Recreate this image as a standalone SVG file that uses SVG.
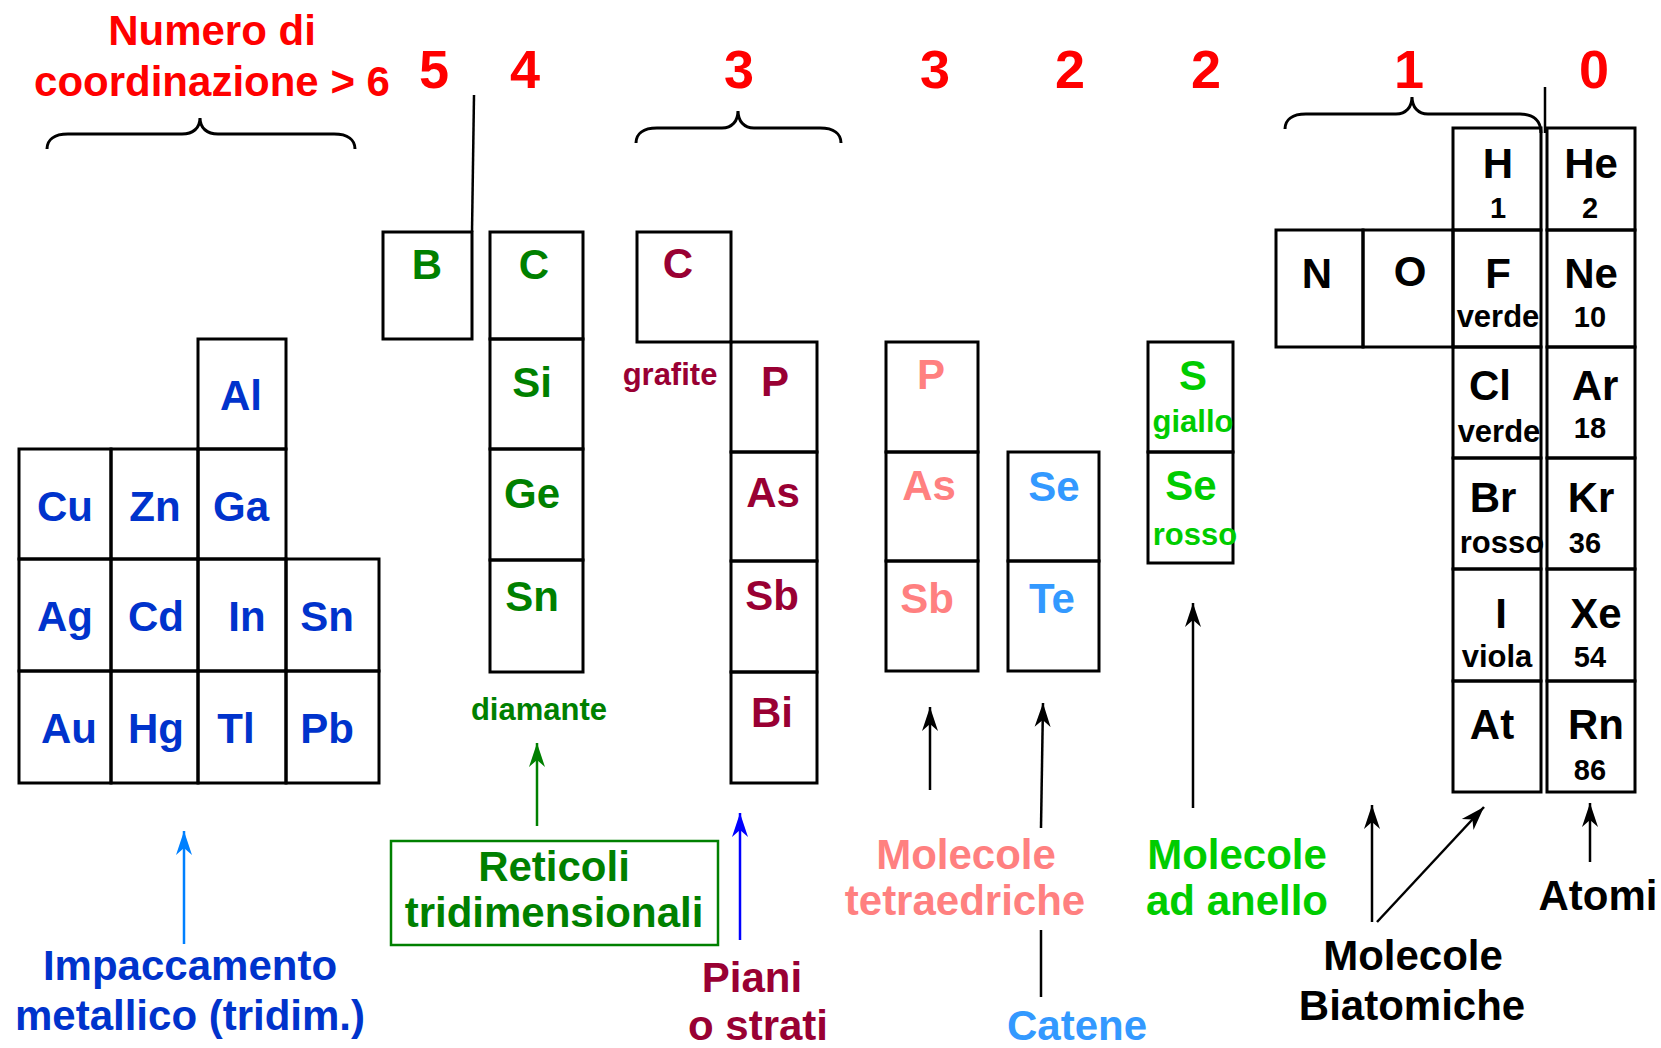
<svg xmlns="http://www.w3.org/2000/svg" width="1661" height="1048" viewBox="0 0 1661 1048">
  <style>
    text { font-family: "Liberation Sans", Arial, sans-serif; font-weight: bold; text-anchor: middle; }
    .cell { fill: none; stroke: #000; stroke-width: 3; }
    .sym { font-size: 42px; }
    .small { font-size: 31px; }
    .num { font-size: 29px; fill: #000; }
    .lbl { font-size: 42px; }
    .cn { font-size: 54px; fill: #ff0000; }
    .brace { fill: none; stroke: #000; stroke-width: 3; }
    .metal { fill: #0033cc; }
    .g4 { fill: #008000; }
    .layer { fill: #990033; }
    .tetra { fill: #ff8080; }
    .chain { fill: #3399ff; }
    .ring { fill: #00cc00; }
    .blk { fill: #000; }
    .ln { fill: none; stroke-width: 2.5; }
  </style>
  <defs>
    <marker id="ah-black" markerUnits="userSpaceOnUse" markerWidth="30" markerHeight="20" refX="24" refY="8" orient="auto" viewBox="0 0 30 16">
      <path d="M24,8 L0,0 L7,8 L0,16 Z" fill="#000"/>
    </marker>
    <marker id="ah-green" markerUnits="userSpaceOnUse" markerWidth="30" markerHeight="20" refX="24" refY="8" orient="auto" viewBox="0 0 30 16">
      <path d="M24,8 L0,0 L7,8 L0,16 Z" fill="#008000"/>
    </marker>
    <marker id="ah-light" markerUnits="userSpaceOnUse" markerWidth="30" markerHeight="20" refX="24" refY="8" orient="auto" viewBox="0 0 30 16">
      <path d="M24,8 L0,0 L7,8 L0,16 Z" fill="#0080ff"/>
    </marker>
    <marker id="ah-blue" markerUnits="userSpaceOnUse" markerWidth="30" markerHeight="20" refX="24" refY="8" orient="auto" viewBox="0 0 30 16">
      <path d="M24,8 L0,0 L7,8 L0,16 Z" fill="#0000ff"/>
    </marker>
  </defs>

  <rect width="1661" height="1048" fill="#fff"/>

  <!-- heading and coordination numbers -->
  <g id="heading">
    <text x="212" y="45" font-size="42" fill="#ff0000">Numero di</text>
    <text x="212" y="96" font-size="42" fill="#ff0000">coordinazione &gt; 6</text>
    <text class="cn" x="434" y="88">5</text>
    <text class="cn" x="525" y="88">4</text>
    <text class="cn" x="739" y="88">3</text>
    <text class="cn" x="935" y="88">3</text>
    <text class="cn" x="1070" y="88">2</text>
    <text class="cn" x="1206" y="88">2</text>
    <text class="cn" x="1409" y="88">1</text>
    <text class="cn" x="1594" y="88">0</text>
  </g>

  <!-- curly braces -->
  <g id="braces">
    <path class="brace" d="M47,149 C47,140 54,134 68,134 L182,134 C193,134 200,128 200,118 C200,128 207,134 218,134 L334,134 C348,134 355,140 355,149"/>
    <path class="brace" d="M636,143 C636,134 643,128 657,128 L722,128 C732,128 738,121 738,111 C738,121 744,128 754,128 L820,128 C834,128 841,134 841,143"/>
    <path class="brace" d="M1285,129 C1285,120 1292,114 1306,114 L1396,114 C1406,114 1412,107 1412,97 C1412,107 1418,114 1428,114 L1520,114 C1534,114 1541,121 1541,133"/>
  </g>

  <!-- metals: packed lattice -->
  <g id="metals">
    <rect class="cell" x="198" y="339" width="88" height="110"/>
    <rect class="cell" x="19" y="449" width="92" height="110"/>
    <rect class="cell" x="111" y="449" width="87" height="110"/>
    <rect class="cell" x="198" y="449" width="88" height="110"/>
    <rect class="cell" x="19" y="559" width="92" height="112"/>
    <rect class="cell" x="111" y="559" width="87" height="112"/>
    <rect class="cell" x="198" y="559" width="88" height="112"/>
    <rect class="cell" x="286" y="559" width="93" height="112"/>
    <rect class="cell" x="19" y="671" width="92" height="112"/>
    <rect class="cell" x="111" y="671" width="87" height="112"/>
    <rect class="cell" x="198" y="671" width="88" height="112"/>
    <rect class="cell" x="286" y="671" width="93" height="112"/>
    <text class="sym metal" x="241" y="410">Al</text>
    <text class="sym metal" x="65" y="521">Cu</text>
    <text class="sym metal" x="155" y="521">Zn</text>
    <text class="sym metal" x="241" y="521">Ga</text>
    <text class="sym metal" x="65" y="631">Ag</text>
    <text class="sym metal" x="156" y="631">Cd</text>
    <text class="sym metal" x="247" y="631">In</text>
    <text class="sym metal" x="327" y="631">Sn</text>
    <text class="sym metal" x="69" y="743">Au</text>
    <text class="sym metal" x="156" y="743">Hg</text>
    <text class="sym metal" x="236" y="743">Tl</text>
    <text class="sym metal" x="327" y="743">Pb</text>
  </g>

  <!-- boron -->
  <g id="boron">
    <rect class="cell" x="383" y="232" width="89" height="107"/>
    <text class="sym g4" x="427" y="279">B</text>
  </g>

  <!-- group 14: diamond lattice -->
  <g id="diamond">
    <rect class="cell" x="490" y="232" width="93" height="107"/>
    <rect class="cell" x="490" y="339" width="93" height="110"/>
    <rect class="cell" x="490" y="449" width="93" height="111"/>
    <rect class="cell" x="490" y="560" width="93" height="112"/>
    <text class="sym g4" x="534" y="279">C</text>
    <text class="sym g4" x="532" y="397">Si</text>
    <text class="sym g4" x="532" y="508">Ge</text>
    <text class="sym g4" x="532" y="611">Sn</text>
    <text class="small g4" x="539" y="720">diamante</text>
  </g>

  <!-- layered structures -->
  <g id="layers">
    <rect class="cell" x="637" y="232" width="94" height="110"/>
    <rect class="cell" x="731" y="342" width="86" height="110"/>
    <rect class="cell" x="731" y="452" width="86" height="109"/>
    <rect class="cell" x="731" y="561" width="86" height="111"/>
    <rect class="cell" x="731" y="672" width="86" height="111"/>
    <text class="sym layer" x="678" y="278">C</text>
    <text class="small layer" x="670" y="385">grafite</text>
    <text class="sym layer" x="775" y="396">P</text>
    <text class="sym layer" x="773" y="507">As</text>
    <text class="sym layer" x="772" y="610">Sb</text>
    <text class="sym layer" x="772" y="727">Bi</text>
  </g>

  <!-- tetrahedral molecules -->
  <g id="tetrahedral">
    <rect class="cell" x="886" y="342" width="92" height="110"/>
    <rect class="cell" x="886" y="452" width="92" height="109"/>
    <rect class="cell" x="886" y="561" width="92" height="110"/>
    <text class="sym tetra" x="931" y="389">P</text>
    <text class="sym tetra" x="929" y="500">As</text>
    <text class="sym tetra" x="927" y="613">Sb</text>
  </g>

  <!-- chains -->
  <g id="chains">
    <rect class="cell" x="1008" y="452" width="91" height="109"/>
    <rect class="cell" x="1008" y="561" width="91" height="110"/>
    <text class="sym chain" x="1054" y="501">Se</text>
    <text class="sym chain" x="1052" y="613">Te</text>
  </g>

  <!-- ring molecules -->
  <g id="rings">
    <rect class="cell" x="1148" y="342" width="85" height="110"/>
    <rect class="cell" x="1148" y="452" width="85" height="111"/>
    <text class="sym ring" x="1193" y="390">S</text>
    <text class="small ring" x="1193" y="432">giallo</text>
    <text class="sym ring" x="1191" y="500">Se</text>
    <text class="small ring" x="1195" y="545">rosso</text>
  </g>

  <!-- diatomic molecules -->
  <g id="diatomic">
    <rect class="cell" x="1276" y="230" width="87" height="117"/>
    <rect class="cell" x="1363" y="230" width="90" height="117"/>
    <rect class="cell" x="1453" y="128" width="88" height="102"/>
    <rect class="cell" x="1453" y="230" width="88" height="117"/>
    <rect class="cell" x="1453" y="347" width="88" height="111"/>
    <rect class="cell" x="1453" y="458" width="88" height="111"/>
    <rect class="cell" x="1453" y="569" width="88" height="112"/>
    <rect class="cell" x="1453" y="681" width="88" height="111"/>
    <text class="sym blk" x="1317" y="288">N</text>
    <text class="sym blk" x="1410" y="286">O</text>
    <text class="sym blk" x="1498" y="178">H</text>
    <text class="num" x="1498" y="218">1</text>
    <text class="sym blk" x="1498" y="288">F</text>
    <text class="small blk" x="1498" y="327">verde</text>
    <text class="sym blk" x="1490" y="400">Cl</text>
    <text class="small blk" x="1499" y="442">verde</text>
    <text class="sym blk" x="1493" y="512">Br</text>
    <text class="small blk" x="1502" y="553">rosso</text>
    <text class="sym blk" x="1501" y="628">I</text>
    <text class="small blk" x="1497" y="667">viola</text>
    <text class="sym blk" x="1492" y="739">At</text>
  </g>

  <!-- noble gases -->
  <g id="noble">
    <rect class="cell" x="1547" y="128" width="88" height="102"/>
    <rect class="cell" x="1547" y="230" width="88" height="117"/>
    <rect class="cell" x="1547" y="347" width="88" height="111"/>
    <rect class="cell" x="1547" y="458" width="88" height="111"/>
    <rect class="cell" x="1547" y="569" width="88" height="112"/>
    <rect class="cell" x="1547" y="681" width="88" height="111"/>
    <text class="sym blk" x="1591" y="178">He</text>
    <text class="num" x="1590" y="218">2</text>
    <text class="sym blk" x="1591" y="288">Ne</text>
    <text class="num" x="1590" y="327">10</text>
    <text class="sym blk" x="1595" y="400">Ar</text>
    <text class="num" x="1590" y="438">18</text>
    <text class="sym blk" x="1591" y="512">Kr</text>
    <text class="num" x="1585" y="553">36</text>
    <text class="sym blk" x="1596" y="628">Xe</text>
    <text class="num" x="1590" y="667">54</text>
    <text class="sym blk" x="1596" y="739">Rn</text>
    <text class="num" x="1590" y="780">86</text>
  </g>

  <!-- structure-type labels -->
  <g id="labels">
    <text class="lbl metal" x="190" y="980">Impaccamento</text>
    <text class="lbl metal" x="190" y="1030">metallico (tridim.)</text>
    <rect x="391" y="841" width="327" height="104" fill="none" stroke="#008000" stroke-width="2.5"/>
    <text class="lbl g4" x="554" y="881">Reticoli</text>
    <text class="lbl g4" x="554" y="927">tridimensionali</text>
    <text class="lbl layer" x="752" y="992">Piani</text>
    <text class="lbl layer" x="758" y="1040">o strati</text>
    <text class="lbl tetra" x="966" y="869">Molecole</text>
    <text class="lbl tetra" x="965" y="915">tetraedriche</text>
    <text class="lbl chain" x="1077" y="1040">Catene</text>
    <text class="lbl ring" x="1237" y="869">Molecole</text>
    <text class="lbl ring" x="1237" y="915">ad anello</text>
    <text class="lbl blk" x="1413" y="970">Molecole</text>
    <text class="lbl blk" x="1412" y="1020">Biatomiche</text>
    <text class="lbl blk" x="1598" y="910">Atomi</text>
  </g>

  <!-- connectors -->
  <g id="connectors">
    <line class="ln" x1="474" y1="95" x2="472" y2="232" stroke="#000"/>
    <line class="ln" x1="1545" y1="87" x2="1545" y2="133" stroke="#000"/>
    <line class="ln" x1="184" y1="944" x2="184" y2="831" stroke="#0080ff" marker-end="url(#ah-light)"/>
    <line class="ln" x1="537" y1="826" x2="537" y2="743" stroke="#008000" marker-end="url(#ah-green)"/>
    <line class="ln" x1="740" y1="940" x2="740" y2="813" stroke="#0000ff" marker-end="url(#ah-blue)"/>
    <line class="ln" x1="930" y1="790" x2="930" y2="707" stroke="#000" marker-end="url(#ah-black)"/>
    <line class="ln" x1="1041" y1="828" x2="1043" y2="703" stroke="#000" marker-end="url(#ah-black)"/>
    <line class="ln" x1="1041" y1="997" x2="1041" y2="930" stroke="#000"/>
    <line class="ln" x1="1193" y1="808" x2="1193" y2="603" stroke="#000" marker-end="url(#ah-black)"/>
    <line class="ln" x1="1372" y1="922" x2="1372" y2="805" stroke="#000" marker-end="url(#ah-black)"/>
    <line class="ln" x1="1377" y1="922" x2="1484" y2="807" stroke="#000" marker-end="url(#ah-black)"/>
    <line class="ln" x1="1590" y1="862" x2="1590" y2="803" stroke="#000" marker-end="url(#ah-black)"/>
  </g>
</svg>
